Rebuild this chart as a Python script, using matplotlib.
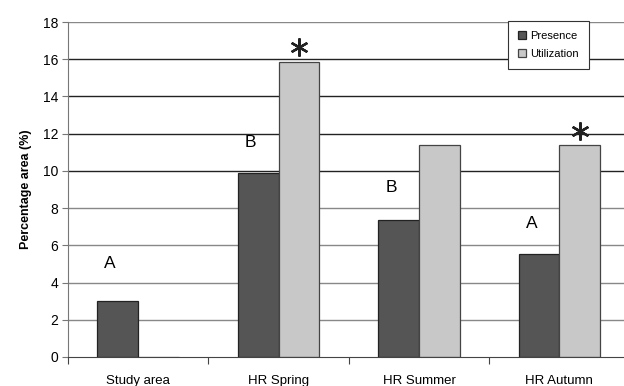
import numpy as np
import matplotlib
matplotlib.use("Agg")
import matplotlib.pyplot as plt

plt.rcParams['font.family'] = ['Liberation Sans', 'DejaVu Sans']

# data
categories = ['Study area', 'HR Spring', 'HR Summer', 'HR Autumn']
presence = [3.0, 9.9, 7.35, 5.55]
utilization = [0.0, 15.85, 11.37, 11.37]
letters = ['A', 'B', 'B', 'A']
letter_y = [5.0, 11.5, 9.1, 7.2]
star = [False, True, False, True]

x = np.arange(len(categories))
w = 0.29

fig = plt.figure(figsize=(6.24, 3.86), dpi=100)
ax = fig.add_axes([68 / 624, 29 / 386, 556 / 624, 335 / 386])

# horizontal gridlines (darker in the upper part, as in the scan)
for v in range(2, 19, 2):
    ax.axhline(v, color='#222222' if 10 <= v <= 16 else '#888888', lw=1.0, zorder=0)

ax.bar(x - w / 2, presence, w, color='#555555', edgecolor='#222222', lw=0.9,
       label='Presence', zorder=2)
ax.bar(x + w / 2, utilization, w, color='#c8c8c8', edgecolor='#444444', lw=0.9,
       label='Utilization', zorder=2)

for i in range(len(categories)):
    ax.text(x[i] - 0.2, letter_y[i], letters[i], ha='center', va='center', fontsize=12.5)
    if star[i]:
        ax.plot(x[i] + w / 2, utilization[i] + 0.8, marker=(6, 2, 0), ms=13,
                mew=1.7, color='#222222', zorder=3)

ax.set_xlim(-0.5, 3.46)
ax.set_ylim(0, 18)
ax.set_yticks(range(0, 19, 2))
ax.set_ylabel('Percentage area (%)', fontsize=9, fontweight='bold', labelpad=8)

ax.set_xticks(np.arange(-0.5, 3.5, 1.0))
ax.set_xticklabels([])
ax.set_xticks(x, minor=True)
ax.set_xticklabels(categories, minor=True, fontsize=9.5)
ax.tick_params(axis='x', which='minor', length=0, pad=13)
ax.tick_params(axis='x', which='major', length=5, color='#444444', direction='out')
ax.tick_params(axis='y', length=4, color='#777777', labelsize=10, pad=3)

for s in ['top', 'right']:
    ax.spines[s].set_visible(False)
ax.spines['left'].set_color('#777777')
ax.spines['bottom'].set_color('#444444')

leg = ax.legend(loc='upper right', fontsize=8, fancybox=False, borderaxespad=0,
                edgecolor='#333333', framealpha=1, handlelength=0.7, handleheight=0.7,
                handletextpad=0.4, borderpad=0.9, labelspacing=0.7)
leg.set_bbox_to_anchor((589 / 624, 365 / 386), transform=fig.transFigure)
leg.get_frame().set_linewidth(0.8)

fig.savefig('out.png', dpi=100)
